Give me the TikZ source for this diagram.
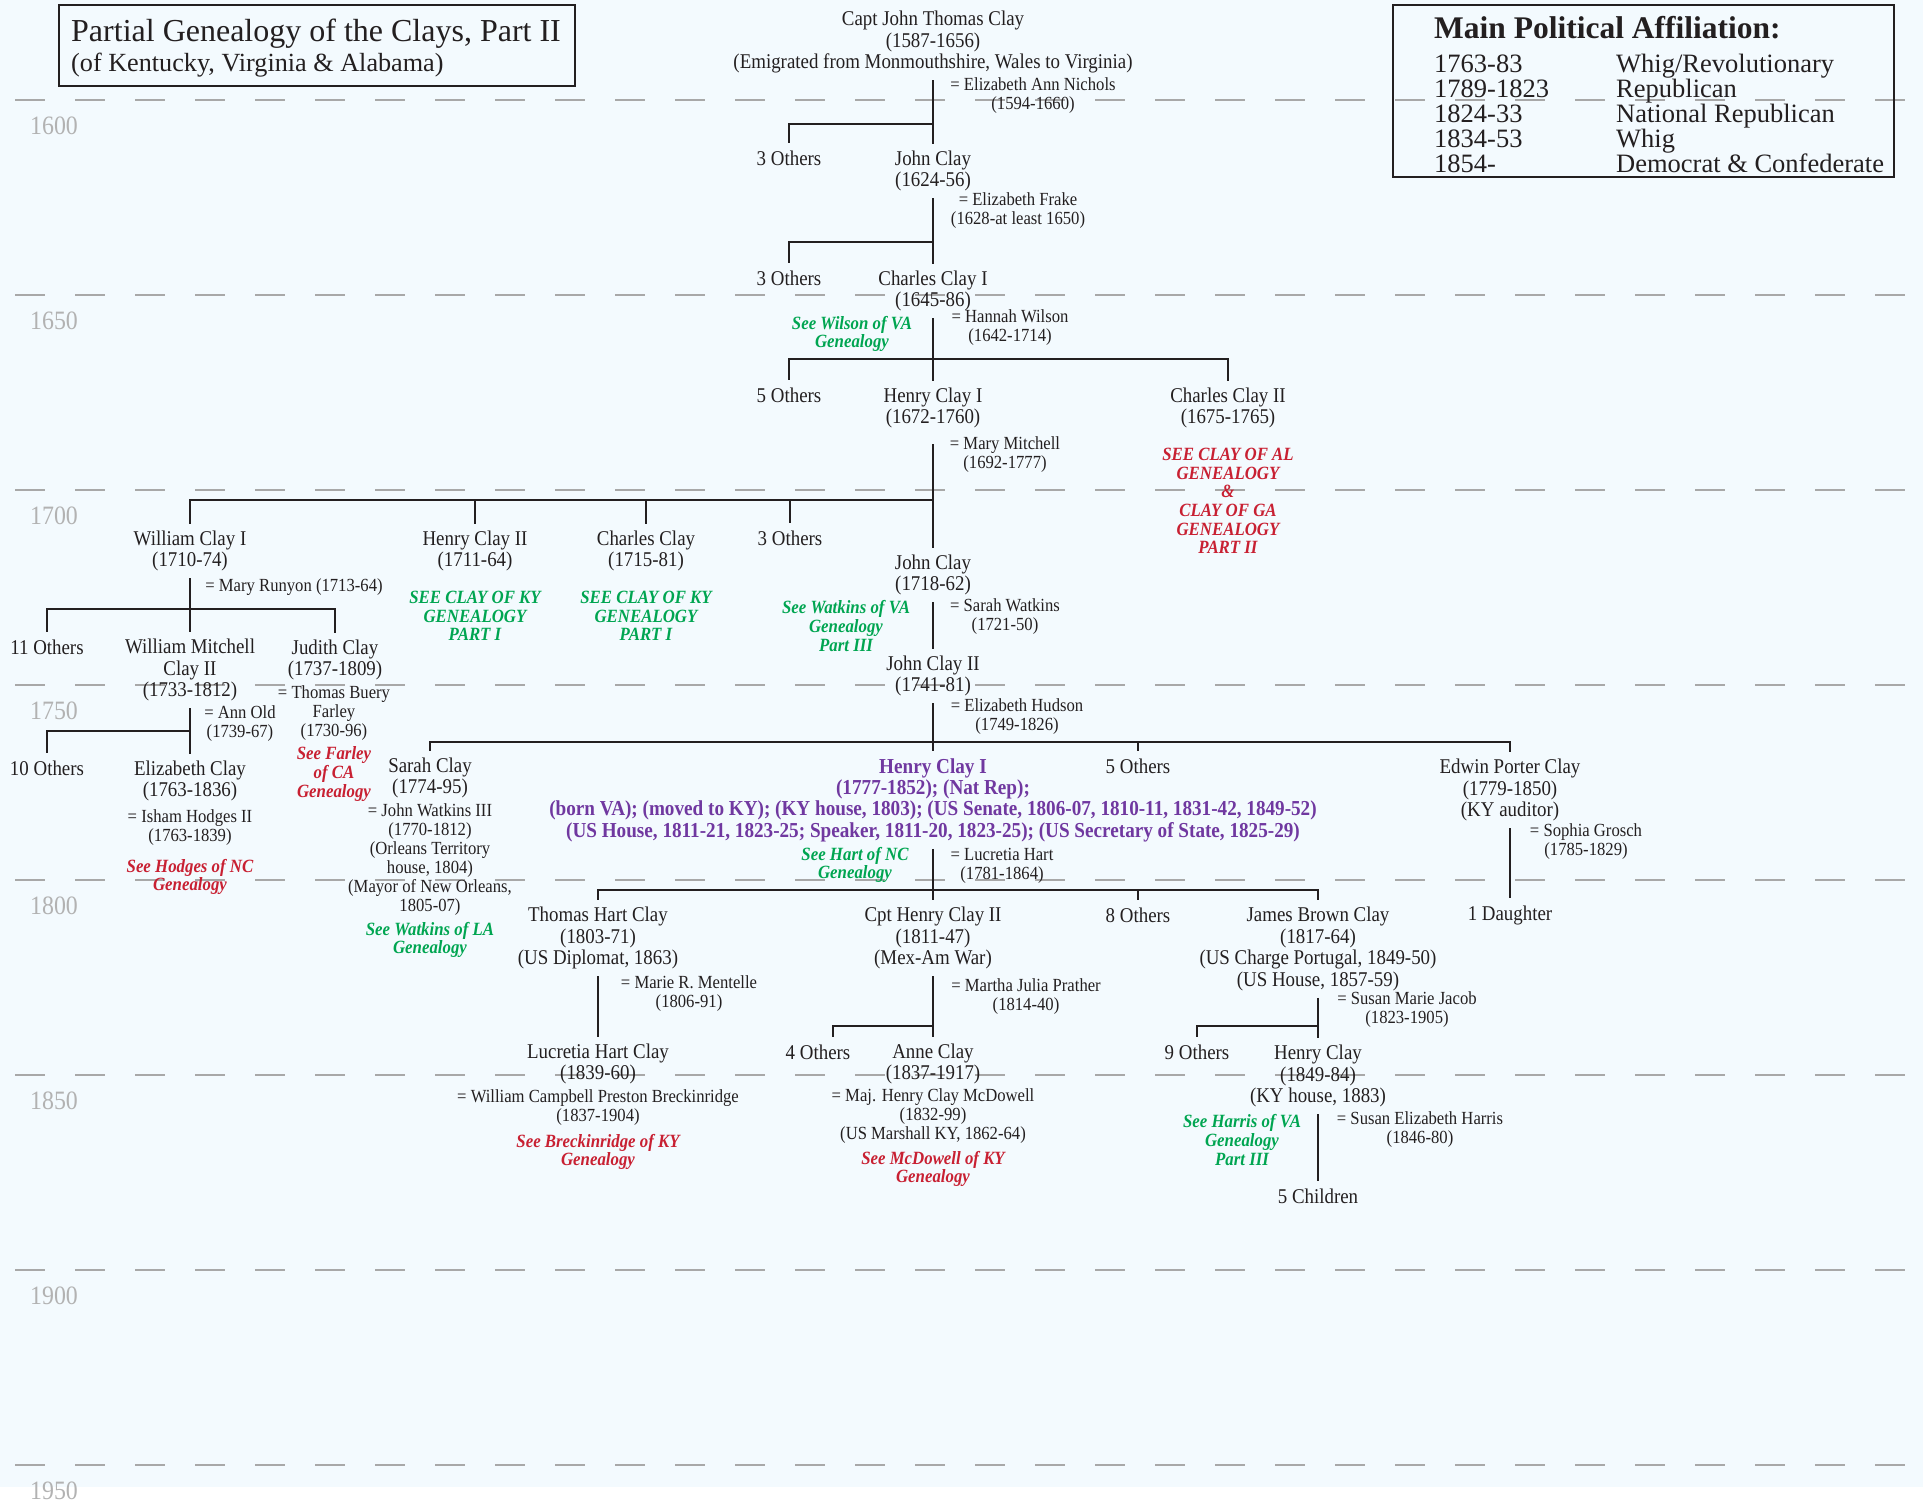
\documentclass[tikz,border=0pt]{standalone}
\usepackage{fontspec}
\setmainfont{Liberation Serif}
\newfontfamily\narrowserif{Liberation Serif}[FakeStretch=0.9]
\definecolor{ink}{RGB}{35,31,32}
\definecolor{paper}{RGB}{243,250,254}
\definecolor{seegreen}{RGB}{0,165,81}
\definecolor{seered}{RGB}{200,32,50}
\definecolor{henrypurple}{RGB}{112,56,160}
\definecolor{yeargray}{RGB}{178,178,178}
\definecolor{dashgray}{RGB}{168,168,168}
\tikzset{
    family tree/.style={
            x=1pt,y=-1pt,
            every node/.style={text=ink,inner sep=0pt},
            person/.style={align=center,inner xsep=2pt,inner ysep=7pt,font=\narrowserif\fontsize{21}{21.5}\selectfont},
            senator/.style={person,text=henrypurple,font=\narrowserif\fontsize{21.3}{21.3}\selectfont\bfseries},
            spouse/.style={align=center,font=\narrowserif\fontsize{18.5}{19}\selectfont},
            see also/.style={align=center,font=\narrowserif\fontsize{18.7}{18.7}\selectfont\bfseries\itshape},
            green ref/.style={see also,text=seegreen},
            red ref/.style={see also,text=seered},
            link/.style={draw=ink,line width=1.8pt},
            era/.style={draw=dashgray,line width=1.6pt,dash pattern=on 30pt off 30pt},
            year label/.style={text=yeargray,font=\narrowserif\fontsize{26.5}{26.5}\selectfont},
            key entry/.style={anchor=base west,font=\fontsize{26.5}{25}\selectfont},
            panel/.style={draw=ink,line width=2.5pt}
        }
    }

\begin{document}
\begin{tikzpicture}[family tree]
                \useasboundingbox (0,0) rectangle (1923,1502);
                \fill [paper] (0,0) rectangle (1923,1487);
                \foreach \yr [count=\i from 0] in {1600,1650,...,1950} {
                    \draw [era] (15,{100+195*\i}) -- (1923,{100+195*\i});
                    \node (Y\yr) [year label] at (54,{126+195*\i}) {\yr};
                }

                \node (TB) [panel,minimum width=516pt,minimum height=81pt] at (317,45.5) {};
                \node (T1) [anchor=base west,font=\fontsize{32}{32}\selectfont] at (71,41) {Partial Genealogy of the Clays, Part II};
                \node (T2) [anchor=base west,font=\fontsize{26.2}{26.2}\selectfont] at (71,71) {(of Kentucky, Virginia \& Alabama)};

                \node (LB) [panel,minimum width=501pt,minimum height=172pt] at (1643.5,91) {};
                \node (LT) [anchor=base west,font=\fontsize{31.5}{31.5}\selectfont\bfseries] at (1434,38) {Main Political Affiliation:};
                \foreach \yrs/\party [count=\r from 0] in {1763-83/Whig\slash Revolutionary,1789-1823/Republican,1824-33/National Republican,1834-53/Whig,1854-/Democrat \& Confederate} {
                    \node (LY\r) [key entry] at (1434,{72+25*\r}) {\yrs};
                    \node (LP\r) [key entry] at (1616,{72+25*\r}) {\party};
                }

                \node (JTC) [person] at (933,42) {Capt John Thomas Clay\\(1587-1656)\\(Emigrated from Monmouthshire, Wales to Virginia)};
                \node (JTCw) [spouse] at (1033,96) {= Elizabeth Ann Nichols\\(1594-1660)};
                \coordinate (JTCk) at (933,124);
                \node (O1) [person] at (789,158) {3 Others};
                \node (JC) [person] at (933,171) {John Clay\\(1624-56)};
                \draw [link] (JTC) -- (JC);
                \draw [link] (JTCk) -| (O1);

                \node (JCw) [spouse] at (1018,211) {= Elizabeth Frake\\(1628-at least 1650)};
                \coordinate (JCk) at (933,242);
                \node (O2) [person] at (789,278) {3 Others};
                \node (CC1) [person] at (933,291) {Charles Clay I\\(1645-86)};
                \draw [link] (JC) -- (CC1);
                \draw [link] (JCk) -| (O2);

                \node (CC1w) [spouse] at (1010,328) {= Hannah Wilson\\(1642-1714)};
                \node (CC1r) [green ref] at (852,334) {See Wilson of VA\\Genealogy};
                \coordinate (CC1k) at (933,359);
                \node (O3) [person] at (789,395) {5 Others};
                \node (HC1) [person] at (933,408) {Henry Clay I\\(1672-1760)};
                \node (CC2) [person] at (1228,408) {Charles Clay II\\(1675-1765)};
                \node (CC2r) [red ref] at (1228,501) {SEE CLAY OF AL\\GENEALOGY\\\&\\CLAY OF GA\\GENEALOGY\\PART II};
                \draw [link] (CC1) -- (HC1);
                \draw [link] (CC1k) -| (O3);
                \draw [link] (CC1k) -| (CC2);

                \node (HC1w) [spouse] at (1005,455) {= Mary Mitchell\\(1692-1777)};
                \coordinate (HC1k) at (933,500);
                \node (WC1) [person] at (190,551) {William Clay I\\(1710-74)};
                \node (HC2) [person] at (475,551) {Henry Clay II\\(1711-64)};
                \node (CC) [person] at (646,551) {Charles Clay\\(1715-81)};
                \node (O4) [person] at (790,538) {3 Others};
                \node (JC2) [person] at (933,575) {John Clay\\(1718-62)};
                \node (HC2r) [green ref] at (475,616) {SEE CLAY OF KY\\GENEALOGY\\PART I};
                \node (CCr) [green ref] at (646,616) {SEE CLAY OF KY\\GENEALOGY\\PART I};
                \draw [link] ([yshift=-9pt]HC1.south) -- (JC2);
                \draw [link] (HC1k) -| (WC1);
                \draw [link] (HC1k) -| (HC2);
                \draw [link] (HC1k) -| (CC);
                \draw [link] (HC1k) -| (O4);

                \node (WC1w) [spouse] at (294,587) {= Mary Runyon (1713-64)};
                \coordinate (WC1k) at (190,609);
                \node (O5) [person] at (47,647) {11 Others};
                \node (WMC) [person] at (190,670) {William Mitchell\\Clay II\\(1733-1812)};
                \node (JuC) [person] at (335,660) {Judith Clay\\(1737-1809)};
                \draw [link] (WC1) -- (WMC);
                \draw [link] (WC1k) -| (O5);
                \draw [link] (WC1k) -| (JuC);

                \node (JuCw) [spouse] at (334,713) {= Thomas Buery\\Farley\\(1730-96)};
                \node (JuCr) [red ref] at (334,774) {See Farley\\of CA\\Genealogy};
                \node (WMCw) [spouse] at (240,724) {= Ann Old\\(1739-67)};
                \coordinate (WMCk) at (190,731);
                \node (O6) [person] at (47,768) {10 Others};
                \node (EC) [person] at (190,781) {Elizabeth Clay\\(1763-1836)};
                \draw [link] (WMC) -- (EC);
                \draw [link] (WMCk) -| (O6);
                \node (ECw) [spouse] at (190,828) {= Isham Hodges II\\(1763-1839)};
                \node (ECr) [red ref] at (190,877) {See Hodges of NC\\Genealogy};

                \node (JC2w) [spouse] at (1005,617) {= Sarah Watkins\\(1721-50)};
                \node (JC2r) [green ref] at (846,626) {See Watkins of VA\\Genealogy\\Part III};
                \node (JC3) [person] at (933,676) {John Clay II\\(1741-81)};
                \draw [link] (JC2) -- (JC3);

                \node (JC3w) [spouse] at (1017,717) {= Elizabeth Hudson\\(1749-1826)};
                \coordinate (JC3k) at (933,742);
                \node (SC) [person] at (430,778) {Sarah Clay\\(1774-95)};
                \node (HC) [senator] at (933,800) {Henry Clay I\\(1777-1852); (Nat Rep);\\(born VA); (moved to KY); (KY house, 1803); (US Senate, 1806-07, 1810-11, 1831-42, 1849-52)\\(US House, 1811-21, 1823-25; Speaker, 1811-20, 1823-25); (US Secretary of State, 1825-29)};
                \node (O7) [person] at (1138,766) {5 Others};
                \node (EPC) [person] at (1510,790) {Edwin Porter Clay\\(1779-1850)\\(KY auditor)};
                \draw [link] (JC3) -- (HC);
                \draw [link] (JC3k) -| (SC);
                \draw [link] (JC3k) -| (O7);
                \draw [link] (JC3k) -| (EPC);

                \node (SCw) [spouse] at (430,860) {= John Watkins III\\(1770-1812)\\(Orleans Territory\\house, 1804)\\(Mayor of New Orleans,\\1805-07)};
                \node (SCr) [green ref] at (430,940) {See Watkins of LA\\Genealogy};
                \node (EPCw) [spouse] at (1586,842) {= Sophia Grosch\\(1785-1829)};
                \node (D1) [person] at (1510,915) {1 Daughter};
                \draw [link] (EPC) -- (D1);

                \node (HCw) [spouse] at (1002,866) {= Lucretia Hart\\(1781-1864)};
                \node (HCr) [green ref] at (855,865) {See Hart of NC\\Genealogy};
                \coordinate (HCk) at (933,890);
                \node (THC) [person] at (598,938) {Thomas Hart Clay\\(1803-71)\\(US Diplomat, 1863)};
                \node (CHC) [person] at (933,938) {Cpt Henry Clay II\\(1811-47)\\(Mex-Am War)};
                \node (O8) [person] at (1138,915) {8 Others};
                \node (JBC) [person] at (1318,949) {James Brown Clay\\(1817-64)\\(US Charge Portugal, 1849-50)\\(US House, 1857-59)};
                \draw [link] (HC) -- (CHC);
                \draw [link] (HCk) -| (THC);
                \draw [link] (HCk) -| (O8);
                \draw [link] (HCk) -| (JBC);

                \node (THCw) [spouse] at (689,994) {= Marie R. Mentelle\\(1806-91)};
                \node (LHC) [person] at (598,1064) {Lucretia Hart Clay\\(1839-60)};
                \draw [link] (THC) -- (LHC);
                \node (LHCw) [spouse] at (598,1108) {= William Campbell Preston Breckinridge\\(1837-1904)};
                \node (LHCr) [red ref] at (598,1152) {See Breckinridge of KY\\Genealogy};

                \node (CHCw) [spouse] at (1026,997) {= Martha Julia Prather\\(1814-40)};
                \coordinate (CHCk) at (933,1026);
                \node (O9) [person] at (818,1052) {4 Others};
                \node (AC) [person] at (933,1064) {Anne Clay\\(1837-1917)};
                \draw [link] (CHC) -- (AC);
                \draw [link] (CHCk) -| ([xshift=15pt]O9.north);
                \node (ACw) [spouse] at (933,1116) {= Maj. Henry Clay McDowell\\(1832-99)\\(US Marshall KY, 1862-64)};
                \node (ACr) [red ref] at (933,1169) {See McDowell of KY\\Genealogy};

                \node (JBCw) [spouse] at (1407,1010) {= Susan Marie Jacob\\(1823-1905)};
                \coordinate (JBCk) at (1318,1026);
                \node (O10) [person] at (1197,1052) {9 Others};
                \node (HC3) [person] at (1318,1076) {Henry Clay\\(1849-84)\\(KY house, 1883)};
                \draw [link] (JBC) -- (HC3);
                \draw [link] (JBCk) -| (O10);
                \node (HC3w) [spouse] at (1420,1130) {= Susan Elizabeth Harris\\(1846-80)};
                \node (HC3r) [green ref] at (1242,1140) {See Harris of VA\\Genealogy\\Part III};
                \node (K5) [person] at (1318,1196) {5 Children};
                \draw [link] (HC3) -- (K5);
            \end{tikzpicture}
\end{document}
